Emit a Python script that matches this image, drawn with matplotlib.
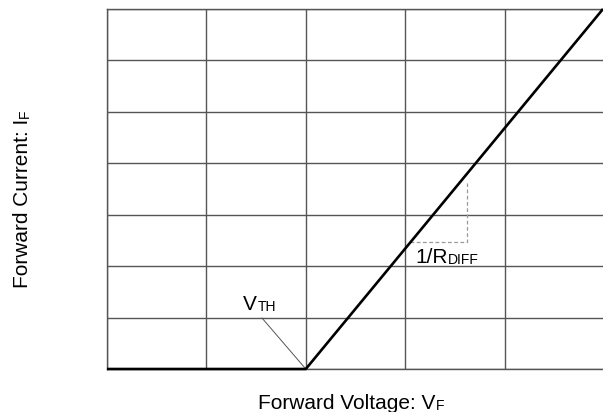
import matplotlib
matplotlib.use("Agg")
import matplotlib.pyplot as plt

# Diode I-V characteristic (grid units: 5 columns x 7 rows)
col_ticks = [0, 1, 2, 3, 4, 5]
row_ticks = [0, 1, 2, 3, 4, 5, 6, 7]
vf_curve = [0.0, 2.0, 4.99]
if_curve = [0.0, 0.0, 7.0]

# slope triangle for 1/R_DIFF
tri_x = [3.05, 3.62, 3.62]
tri_y = [2.47, 2.47, 3.62]

# V_TH leader line
vth_leader_x = [1.56, 2.0]
vth_leader_y = [0.99, 0.0]

plt.rcParams['font.family'] = ['Liberation Sans', 'DejaVu Sans']
FS = 15
SUB = 10

fig = plt.figure(figsize=(6.03, 4.12), dpi=100)
ax = fig.add_axes([107 / 603, 43 / 412, 497 / 603, 360 / 412])
ax.set_xlim(0, 5)
ax.set_ylim(0, 7)
ax.set_xticks(col_ticks)
ax.set_yticks(row_ticks)
ax.tick_params(length=0, labelbottom=False, labelleft=False)
ax.grid(True, color='#555555', lw=1.0)
for s in ax.spines.values():
    s.set_color('#555555')
    s.set_linewidth(1.0)
ax.set_axisbelow(True)

ax.plot(vf_curve, if_curve, color='black', lw=1.9, solid_capstyle='butt', clip_on=False, zorder=5)
ax.plot(tri_x, tri_y, color='#999999', lw=0.9, ls=(0, (3, 2)), zorder=4)
ax.plot(vth_leader_x, vth_leader_y, color='#555555', lw=0.7, zorder=4)


def sub_label(x, y, main, sub):
    t = ax.text(x, y, main, fontsize=FS, va='baseline', ha='left')
    ax.annotate(sub, xy=(1, 0), xycoords=t, xytext=(0.3, 0), textcoords='offset points',
                fontsize=SUB, va='bottom', ha='left')
    return t


sub_label(1.368, 1.147, 'V', 'TH')
sub_label(3.10, 2.06, '1/R', 'DIFF')

# axis labels
xl = fig.text(258 / 603, 1 - 409 / 412, 'Forward Voltage: V', fontsize=FS, va='baseline', ha='left')
fig.canvas.draw()
plt.annotate('F', xy=(1, 0), xycoords=xl, xytext=(0.3, 0), textcoords='offset points',
             fontsize=SUB, va='bottom', ha='left', annotation_clip=False)

yl = fig.text(32 / 603, 1 - 288 / 412, 'Forward Current: I', fontsize=FS, rotation=90,
              va='bottom', ha='left', rotation_mode='anchor')
plt.annotate('F', xy=(1, 1), xycoords=yl, xytext=(0, 0.3), textcoords='offset points',
             fontsize=SUB, rotation=90, va='bottom', ha='right', annotation_clip=False)

fig.savefig('out.png', dpi=100)
